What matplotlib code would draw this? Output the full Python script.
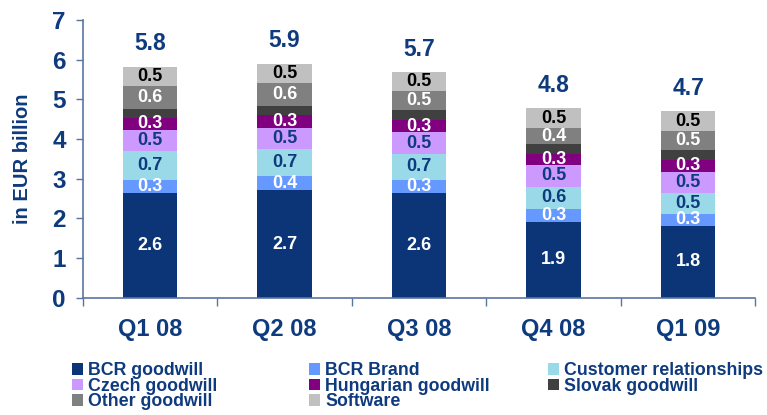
#!/usr/bin/env python3
"""Stacked bars: intangible assets by component, in EUR billion."""
import numpy as np
import matplotlib
matplotlib.use("Agg")
import matplotlib.pyplot as plt

plt.rcParams["font.family"] = ["Liberation Sans", "DejaVu Sans"]
plt.rcParams["font.weight"] = "bold"

quarters = ["Q1 08", "Q2 08", "Q3 08", "Q4 08", "Q1 09"]

series_names = ["BCR goodwill", "BCR Brand", "Customer relationships",
                "Czech goodwill", "Hungarian goodwill", "Slovak goodwill",
                "Other goodwill", "Software"]

# segment heights
bcr_goodwill = [2.64, 2.70, 2.64, 1.91, 1.81]
bcr_brand = [0.33, 0.37, 0.33, 0.33, 0.30]
customer_rel = [0.73, 0.68, 0.65, 0.55, 0.53]
czech_goodwill = [0.53, 0.53, 0.55, 0.55, 0.53]
hungarian_goodwill = [0.30, 0.33, 0.30, 0.28, 0.30]
slovak_goodwill = [0.23, 0.23, 0.25, 0.25, 0.25]
other_goodwill = [0.58, 0.58, 0.48, 0.40, 0.48]
software = [0.48, 0.48, 0.48, 0.50, 0.50]

# printed segment labels (None = not labelled)
lbl_bcr_goodwill = ["2.6", "2.7", "2.6", "1.9", "1.8"]
lbl_bcr_brand = ["0.3", "0.4", "0.3", "0.3", "0.3"]
lbl_customer_rel = ["0.7", "0.7", "0.7", "0.6", "0.5"]
lbl_czech_goodwill = ["0.5", "0.5", "0.5", "0.5", "0.5"]
lbl_hungarian_goodwill = ["0.3", "0.3", "0.3", "0.3", "0.3"]
lbl_slovak_goodwill = None
lbl_other_goodwill = ["0.6", "0.6", "0.5", "0.4", "0.5"]
lbl_software = ["0.5", "0.5", "0.5", "0.5", "0.5"]

totals = ["5.8", "5.9", "5.7", "4.8", "4.7"]

NAVY = "#0E3A7E"
AXIS = "#5A74A0"
colors = ["#0B3577", "#6699FF", "#9AD9E7", "#CC99FF",
          "#800080", "#404040", "#808080", "#C0C0C0"]
label_colors = ["white", "white", NAVY, NAVY, "white", None, "white", "black"]

values = [bcr_goodwill, bcr_brand, customer_rel, czech_goodwill,
          hungarian_goodwill, slovak_goodwill, other_goodwill, software]
labels = [lbl_bcr_goodwill, lbl_bcr_brand, lbl_customer_rel, lbl_czech_goodwill,
          lbl_hungarian_goodwill, lbl_slovak_goodwill, lbl_other_goodwill,
          lbl_software]

fig = plt.figure(figsize=(7.67, 4.15), dpi=100)
ax = fig.add_axes([0.1077, 0.283, 0.8773, 0.669])

x = np.arange(len(quarters))
bottom = np.zeros(len(quarters))
handles = []
for name, vals, col, lbls, lc in zip(series_names, values, colors, labels, label_colors):
    vals = np.asarray(vals)
    bars = ax.bar(x, vals, 0.405, bottom=bottom, color=col, linewidth=0, label=name)
    handles.append(bars)
    if lbls is not None:
        for xi, b, v, t in zip(x, bottom, vals, lbls):
            ax.text(xi, b + v / 2, t, ha="center", va="center",
                    fontsize=13, fontweight="bold", color=lc)
    bottom += vals

for xi, top, t in zip(x, bottom, totals):
    ax.text(xi, top + 0.58, t, ha="center", va="center",
            fontsize=16.5, fontweight="bold", color=NAVY)

ax.set_xlim(-0.5, len(quarters) - 0.5)
ax.set_ylim(0, 7)
ax.set_yticks(range(0, 8))
ax.set_xticks(x)
ax.set_xticklabels(quarters)
ax.set_xticks(np.arange(-0.5, len(quarters)), minor=True)
ax.tick_params(axis="x", which="major", length=0, pad=15, labelsize=17,
               labelcolor=NAVY)
ax.tick_params(axis="x", which="minor", length=6, width=1, color=AXIS)
ax.tick_params(axis="y", length=5, width=1, color=AXIS, labelsize=17.5,
               labelcolor=NAVY, pad=7)
for lab in ax.get_xticklabels() + ax.get_yticklabels():
    lab.set_fontweight("bold")
for s in ("top", "right"):
    ax.spines[s].set_visible(False)
for s in ("left", "bottom"):
    ax.spines[s].set_color(AXIS)
    ax.spines[s].set_linewidth(1.2)
ax.set_ylabel("in EUR billion", fontsize=14.5, fontweight="bold", color=NAVY,
              labelpad=15)

# legend: three columns, row-major reading order
cols = [[0, 3, 6], [1, 4, 7], [2, 5]]
col_x = [72, 309, 548]
for idxs, cx in zip(cols, col_x):
    fig.legend([handles[i] for i in idxs], [series_names[i] for i in idxs],
               loc="upper left", bbox_to_anchor=(cx / 767, 1 - 362 / 415),
               frameon=False, borderpad=0, borderaxespad=0,
               handlelength=0.62, handleheight=0.62, handletextpad=0.28,
               labelspacing=-0.08, labelcolor=NAVY,
               prop={"size": 12.8, "weight": "bold"})

fig.savefig("out.png", dpi=100)
